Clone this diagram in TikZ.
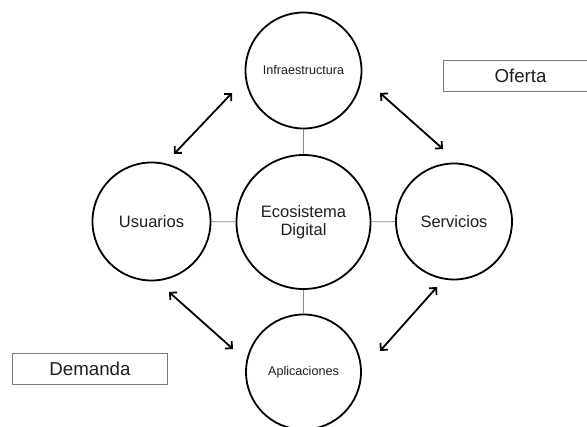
\documentclass[tikz,border=0pt]{standalone}
\usepackage{fontspec}
\setmainfont{Liberation Sans}
\usetikzlibrary{arrows.meta}
\definecolor{txt}{HTML}{1E1E1E}
\definecolor{boxline}{HTML}{7A7A7A}
\definecolor{linkline}{HTML}{8A8A8A}
\tikzset{
  bubble/.style={circle, draw=black, line width=1.8pt, inner sep=0pt, text=txt},
  bigtext/.style={font=\fontsize{16.5}{18}\selectfont},
  smalltext/.style={font=\fontsize{12.6}{14}\selectfont},
  labelbox/.style={draw=boxline, line width=0.9pt, inner sep=0pt, text=txt,
    font=\fontsize{18.7}{20}\selectfont},
  link/.style={draw=linkline, line width=0.9pt},
  twoway/.style={draw=black, line width=1.8pt, line cap=round,
    {Straight Barb[length=5pt,width=10pt,line join=miter]}-{Straight Barb[length=5pt,width=10pt,line join=miter]}}
}
\begin{document}
\begin{tikzpicture}[x=1pt, y=-1pt]
  \useasboundingbox (0,0) rectangle (587,427);
  \clip (0,0) rectangle (587,427);

  % the four actors around the core
  \node[bubble, minimum size=116pt, smalltext] (infra) at (303.5,70.5) {Infraestructura};
  \node[bubble, minimum size=134pt, bigtext, align=center] (eco) at (303.5,222) {Ecosistema\\Digital};
  \node[bubble, minimum size=118pt, bigtext] (usu) at (151.5,221.5) {Usuarios};
  \node[bubble, minimum size=116pt, bigtext] (serv) at (454,221.5) {Servicios};
  \node[bubble, minimum size=115pt, smalltext] (apli) at (303.5,372) {Aplicaciones};

  % supply / demand labels
  \node[labelbox, minimum width=155pt, minimum height=31pt] (oferta) at (520.5,76) {Oferta};
  \node[labelbox, minimum width=154.5pt, minimum height=31pt] (demanda) at (90,368.5) {Demanda};

  % spokes from the core
  \draw[link] (eco) -- (infra);
  \draw[link] (eco) -- (usu);
  \draw[link] (eco) -- (serv);
  \draw[link] (eco) -- (apli);

  % two-way relations between neighbours
  \coordinate (tlA) at (232,93);  \coordinate (tlB) at (174,154);
  \coordinate (trA) at (380,93);  \coordinate (trB) at (443,149);
  \coordinate (blA) at (169,292); \coordinate (blB) at (233,349);
  \coordinate (brA) at (437,287); \coordinate (brB) at (380,351);
  \draw[twoway] (tlA) -- (tlB);
  \draw[twoway] (trA) -- (trB);
  \draw[twoway] (blA) -- (blB);
  \draw[twoway] (brA) -- (brB);
\end{tikzpicture}
\end{document}
